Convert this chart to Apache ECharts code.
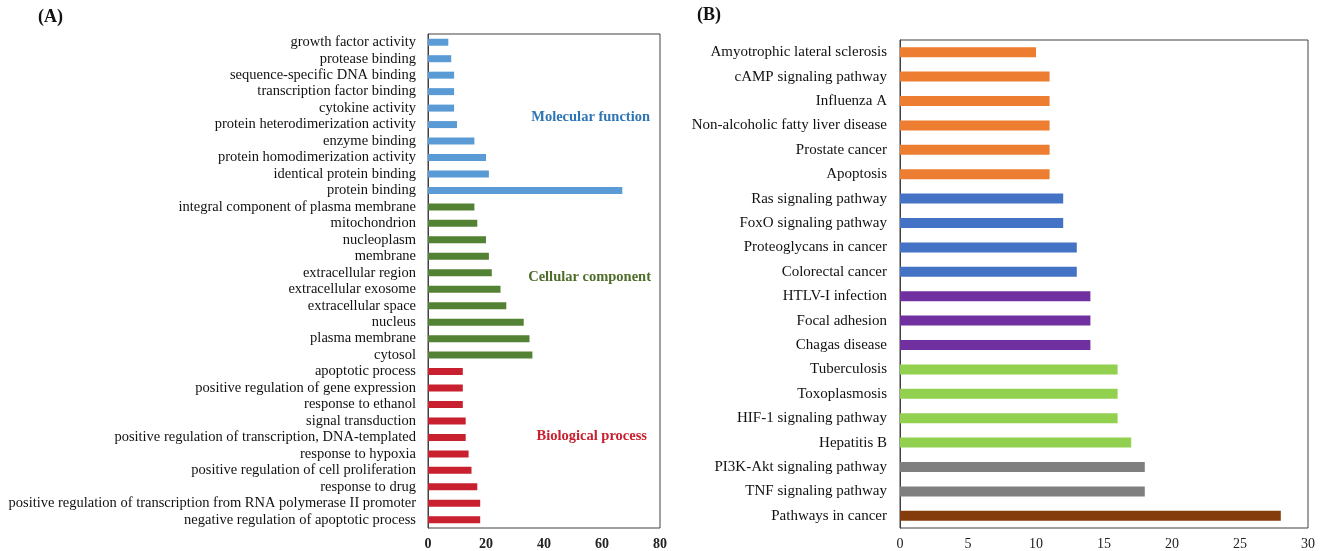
<!DOCTYPE html>
<html>
<head>
<meta charset="utf-8">
<script src="https://cdn.jsdelivr.net/npm/echarts@6/dist/echarts.min.js"></script>
<style>
html,body{margin:0;padding:0;background:#fff;}
#c{width:1325px;height:551px;}
</style>
</head>
<body>
<div id="c"></div>
<script>
// ---- Panel A data (top to bottom) ----
const goMF = ['growth factor activity','protease binding','sequence-specific DNA binding','transcription factor binding','cytokine activity','protein heterodimerization activity','enzyme binding','protein homodimerization activity','identical protein binding','protein binding'];
const goMFVals = [7,8,9,9,9,10,16,20,21,67];
const goCC = ['integral component of plasma membrane','mitochondrion','nucleoplasm','membrane','extracellular region','extracellular exosome','extracellular space','nucleus','plasma membrane','cytosol'];
const goCCVals = [16,17,20,21,22,25,27,33,35,36];
const goBP = ['apoptotic process','positive regulation of gene expression','response to ethanol','signal transduction','positive regulation of transcription, DNA-templated','response to hypoxia','positive regulation of cell proliferation','response to drug','positive regulation of transcription from RNA polymerase II promoter','negative regulation of apoptotic process'];
const goBPVals = [12,12,12,13,13,14,15,17,18,18];
const goTicks = [0,20,40,60,80];

// ---- Panel B data (top to bottom), grouped ----
const keggOrange = ['Amyotrophic lateral sclerosis','cAMP signaling pathway','Influenza A','Non-alcoholic fatty liver disease','Prostate cancer','Apoptosis'];
const keggOrangeVals = [10,11,11,11,11,11];
const keggBlue = ['Ras signaling pathway','FoxO signaling pathway','Proteoglycans in cancer','Colorectal cancer'];
const keggBlueVals = [12,12,13,13];
const keggPurple = ['HTLV-I infection','Focal adhesion','Chagas disease'];
const keggPurpleVals = [14,14,14];
const keggGreen = ['Tuberculosis','Toxoplasmosis','HIF-1 signaling pathway','Hepatitis B'];
const keggGreenVals = [16,16,16,17];
const keggGray = ['PI3K-Akt signaling pathway','TNF signaling pathway'];
const keggGrayVals = [18,18];
const keggBrown = ['Pathways in cancer'];
const keggBrownVals = [28];
const keggTicks = [0,5,10,15,20,25,30];

const serif = '"Liberation Serif","Times New Roman",serif';

function build(groups){
  const cats=[], data=[];
  groups.forEach(g=>{
    g.names.forEach((n,i)=>{cats.push(n); data.push({value:g.vals[i], itemStyle:{color:g.color}});});
  });
  return {cats,data};
}
const A = build([
  {names:goMF, vals:goMFVals, color:'#5B9BD5'},
  {names:goCC, vals:goCCVals, color:'#548235'},
  {names:goBP, vals:goBPVals, color:'#C8202F'}
]);
const B = build([
  {names:keggOrange, vals:keggOrangeVals, color:'#ED7D31'},
  {names:keggBlue, vals:keggBlueVals, color:'#4472C4'},
  {names:keggPurple, vals:keggPurpleVals, color:'#7030A0'},
  {names:keggGreen, vals:keggGreenVals, color:'#92D050'},
  {names:keggGray, vals:keggGrayVals, color:'#7F7F7F'},
  {names:keggBrown, vals:keggBrownVals, color:'#843C0C'}
]);

const chart = echarts.init(document.getElementById('c'), null, {renderer:'canvas'});
const option = {
  animation:false,
  backgroundColor:'#fff',
  grid:[
    {left:428, top:34, width:232, height:494, show:true, borderColor:'#404040', borderWidth:1, backgroundColor:'transparent'},
    {left:900, top:40, width:408, height:488, show:true, borderColor:'#404040', borderWidth:1, backgroundColor:'transparent'}
  ],
  xAxis:[
    {gridIndex:0, type:'value', min:goTicks[0], max:goTicks[goTicks.length-1], interval:20,
     axisLine:{show:false}, axisTick:{show:false}, splitLine:{show:false},
     axisLabel:{fontFamily:serif, fontSize:14, fontWeight:'bold', color:'#222', margin:9}},
    {gridIndex:1, type:'value', min:keggTicks[0], max:keggTicks[keggTicks.length-1], interval:5,
     axisLine:{show:false}, axisTick:{show:false}, splitLine:{show:false},
     axisLabel:{fontFamily:serif, fontSize:14, color:'#222', margin:9}}
  ],
  yAxis:[
    {gridIndex:0, type:'category', inverse:true, data:A.cats,
     axisLine:{show:true, lineStyle:{color:'#404040'}}, axisTick:{show:false},
     axisLabel:{fontFamily:serif, fontSize:14.5, color:'#111', margin:12, interval:0}},
    {gridIndex:1, type:'category', inverse:true, data:B.cats,
     axisLine:{show:true, lineStyle:{color:'#404040'}}, axisTick:{show:false},
     axisLabel:{fontFamily:serif, fontSize:15, color:'#111', margin:13, interval:0}}
  ],
  series:[
    {type:'bar', xAxisIndex:0, yAxisIndex:0, data:A.data, barWidth:7},
    {type:'bar', xAxisIndex:1, yAxisIndex:1, data:B.data, barWidth:10}
  ],
  graphic:[
    {type:'text', left:38, top:8, style:{text:'(A)', font:'bold 18px '+serif, fill:'#111'}},
    {type:'text', left:697, top:6, style:{text:'(B)', font:'bold 18px '+serif, fill:'#111'}},
    {type:'text', right:675, top:110, style:{text:'Molecular function', font:'bold 14.5px '+serif, fill:'#2E75B6', textAlign:'right'}},
    {type:'text', right:674, top:270, style:{text:'Cellular component', font:'bold 14.5px '+serif, fill:'#4F6D2A', textAlign:'right'}},
    {type:'text', right:678, top:429, style:{text:'Biological process', font:'bold 14.5px '+serif, fill:'#C8202F', textAlign:'right'}}
  ]
};
chart.setOption(option);
</script>
</body>
</html>
